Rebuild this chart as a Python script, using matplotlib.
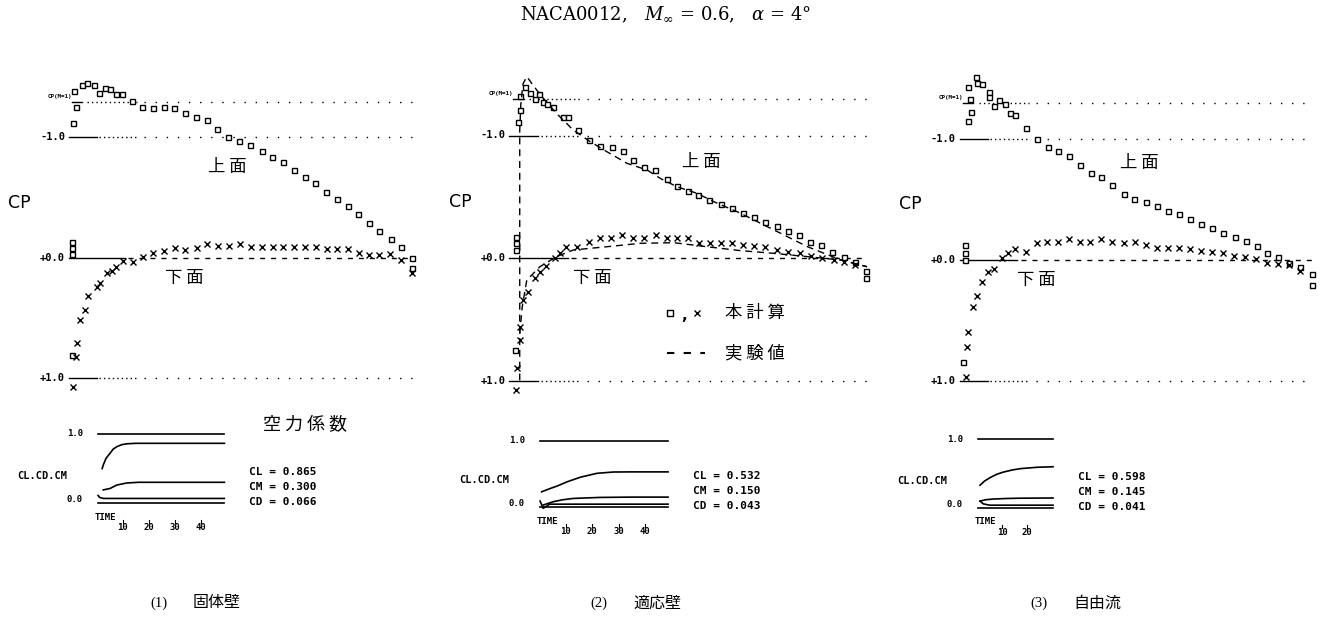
import matplotlib
matplotlib.use("Agg")
import matplotlib.pyplot as plt

plt.rcParams['font.family'] = ['DejaVu Sans', 'Noto Sans CJK JP']
plt.rcParams['mathtext.fontset'] = 'dejavuserif'

W, H = 1326, 617
MONO = 'DejaVu Sans Mono'
JP = ['Noto Sans CJK JP', 'DejaVu Sans']

CP_STAR = -1.294          # critical Cp for M = 0.6

# ---- (1) solid wall -------------------------------------------------------
solid_up_x = [0.0, 0.0, 0.0, 0.0, 0.002, 0.012, 0.006, 0.028, 0.045, 0.064, 0.08,
              0.096, 0.111, 0.13, 0.145, 0.176, 0.206, 0.237, 0.268, 0.298, 0.331,
              0.363, 0.395, 0.425, 0.456, 0.488, 0.521, 0.555, 0.585, 0.618, 0.650,
              0.681, 0.711, 0.743, 0.775, 0.806, 0.837, 0.867, 0.898, 0.932, 0.963,
              0.995, 0.995]
solid_up_cp = [0.805, -0.033, -0.08, -0.135, -1.12, -1.256, -1.39, -1.436, -1.45,
               -1.436, -1.367, -1.408, -1.40, -1.358, -1.358, -1.305, -1.256, -1.242,
               -1.256, -1.248, -1.206, -1.168, -1.145, -1.071, -1.007, -0.971, -0.938,
               -0.890, -0.836, -0.794, -0.730, -0.670, -0.620, -0.550, -0.487, -0.434,
               -0.365, -0.288, -0.224, -0.155, -0.094, 0.003, 0.085]
solid_lo_x = [0.004, 0.012, 0.014, 0.023, 0.038, 0.048, 0.072, 0.082, 0.101, 0.116,
              0.130, 0.148, 0.177, 0.208, 0.237, 0.269, 0.300, 0.331, 0.365, 0.395,
              0.427, 0.459, 0.490, 0.524, 0.555, 0.587, 0.616, 0.650, 0.681, 0.713,
              0.745, 0.775, 0.806, 0.838, 0.867, 0.898, 0.930, 0.963, 0.995]
solid_lo_cp = [1.068, 0.819, 0.708, 0.515, 0.432, 0.315, 0.238, 0.21, 0.122, 0.105,
               0.072, 0.022, 0.036, -0.011, -0.044, -0.058, -0.080, -0.066, -0.080,
               -0.114, -0.100, -0.100, -0.114, -0.089, -0.089, -0.094, -0.094, -0.089,
               -0.094, -0.094, -0.072, -0.072, -0.072, -0.039, -0.025, -0.025, -0.033,
               0.017, 0.127]

# ---- (2) adaptive wall ----------------------------------------------------
adapt_up_x = [0.005, 0.008, 0.008, 0.008, 0.015, 0.021, 0.019, 0.033, 0.049, 0.061,
              0.074, 0.085, 0.097, 0.114, 0.142, 0.156, 0.184, 0.215, 0.246, 0.279,
              0.310, 0.340, 0.371, 0.401, 0.434, 0.464, 0.493, 0.524, 0.555, 0.588,
              0.619, 0.650, 0.680, 0.713, 0.745, 0.776, 0.808, 0.839, 0.871, 0.902,
              0.935, 0.966, 0.997, 0.997]
adapt_up_cp = [0.75, -0.065, -0.12, -0.17, -1.11, -1.21, -1.32, -1.40, -1.345, -1.30,
               -1.34, -1.27, -1.26, -1.235, -1.15, -1.15, -1.045, -0.963, -0.914, -0.904,
               -0.876, -0.80, -0.74, -0.718, -0.642, -0.588, -0.549, -0.514, -0.473,
               -0.441, -0.406, -0.370, -0.332, -0.296, -0.261, -0.223, -0.188, -0.133,
               -0.106, -0.051, -0.011, 0.030, 0.104, 0.166]
adapt_lo_x = [0.008, 0.012, 0.019, 0.019, 0.029, 0.043, 0.061, 0.076, 0.093, 0.118,
              0.133, 0.151, 0.182, 0.215, 0.246, 0.277, 0.307, 0.340, 0.371, 0.403,
              0.434, 0.464, 0.495, 0.526, 0.556, 0.588, 0.618, 0.651, 0.682, 0.713,
              0.745, 0.778, 0.810, 0.841, 0.872, 0.907, 0.935, 0.967]
adapt_lo_cp = [1.078, 0.90, 0.669, 0.561, 0.343, 0.275, 0.166, 0.112, 0.065, 0.003,
               -0.038, -0.092, -0.087, -0.133, -0.160, -0.160, -0.188, -0.160, -0.160,
               -0.188, -0.160, -0.160, -0.160, -0.125, -0.125, -0.120, -0.120, -0.106,
               -0.098, -0.087, -0.065, -0.051, -0.043, -0.016, 0.003, 0.016, 0.030,
               0.057]
# wind-tunnel measurement
exp_up_x = [0.019, 0.019, 0.022, 0.028, 0.039, 0.075, 0.123, 0.17, 0.218, 0.265,
            0.322, 0.379, 0.416, 0.463, 0.52, 0.567, 0.643, 0.737, 0.832, 0.926, 1.0]
exp_up_cp = [1.0, -1.04, -1.25, -1.42, -1.48, -1.34, -1.18, -1.045, -0.95, -0.868,
             -0.773, -0.718, -0.65, -0.582, -0.528, -0.46, -0.365, -0.229, -0.092,
             0.016, 0.071]
exp_lo_x = [0.019, 0.026, 0.039, 0.076, 0.123, 0.17, 0.218, 0.265, 0.36, 0.454, 0.548,
            0.643, 0.737, 0.832, 0.926, 1.0]
exp_lo_cp = [0.62, 0.40, 0.18, 0.071, -0.011, -0.065, -0.079, -0.092, -0.12, -0.125,
             -0.092, -0.06, -0.038, -0.011, 0.016, 0.071]

# ---- (3) free stream ------------------------------------------------------
free_up_x = [0.0, 0.006, 0.006, 0.006, 0.015, 0.022, 0.02, 0.015, 0.036, 0.039, 0.055,
             0.074, 0.074, 0.089, 0.104, 0.12, 0.135, 0.149, 0.181, 0.211, 0.243,
             0.273, 0.305, 0.334, 0.366, 0.396, 0.428, 0.460, 0.491, 0.524, 0.556,
             0.586, 0.620, 0.651, 0.682, 0.714, 0.745, 0.779, 0.810, 0.841, 0.872,
             0.904, 0.934, 0.966, 0.999, 0.999]
free_up_cp = [0.84, -0.124, -0.06, 0.0, -1.149, -1.226, -1.328, -1.427, -1.51, -1.46,
              -1.455, -1.391, -1.345, -1.273, -1.322, -1.287, -1.212, -1.198, -1.088,
              -0.998, -0.931, -0.903, -0.860, -0.783, -0.722, -0.683, -0.620, -0.545,
              -0.501, -0.482, -0.446, -0.407, -0.380, -0.336, -0.294, -0.261, -0.226,
              -0.187, -0.160, -0.116, -0.06, -0.027, 0.022, 0.055, 0.116, 0.207]
free_lo_x = [0.009, 0.012, 0.015, 0.03, 0.041, 0.054, 0.073, 0.089, 0.111, 0.130,
             0.149, 0.180, 0.211, 0.242, 0.273, 0.304, 0.335, 0.364, 0.395, 0.428,
             0.460, 0.493, 0.524, 0.556, 0.587, 0.620, 0.651, 0.682, 0.714, 0.745,
             0.777, 0.808, 0.840, 0.870, 0.902, 0.934, 0.965]
free_lo_cp = [0.964, 0.722, 0.593, 0.386, 0.298, 0.179, 0.097, 0.077, -0.014, -0.055,
              -0.088, -0.069, -0.138, -0.152, -0.152, -0.174, -0.152, -0.152, -0.174,
              -0.152, -0.143, -0.152, -0.124, -0.097, -0.097, -0.097, -0.088, -0.077,
              -0.069, -0.055, -0.033, -0.022, -0.006, 0.022, 0.033, 0.041, 0.088]

# ---- force coefficient histories -----------------------------------------
coef_names = ['CL', 'CM', 'CD']
coef_final = [[0.865, 0.300, 0.066], [0.532, 0.150, 0.043], [0.598, 0.145, 0.041]]
time_ticks = [[10, 20, 30, 40], [10, 20, 30, 40], [10, 20]]

hist1_cl_t = [2.0, 2.4, 3.5, 5.0, 6.2, 7.6, 9.5, 11.4, 15, 49]
hist1_cl = [0.50, 0.55, 0.65, 0.72, 0.78, 0.816, 0.845, 0.858, 0.865, 0.865]
hist1_cm_t = [2.4, 5.0, 7.6, 11.4, 16, 49]
hist1_cm = [0.19, 0.21, 0.26, 0.29, 0.30, 0.30]
hist1_cd_t = [0.4, 1.0, 2.5, 49]
hist1_cd = [0.11, 0.08, 0.066, 0.066]

hist2_cl_t = [1.0, 4.2, 7.0, 10.5, 15.5, 21.8, 28, 35, 48.7]
hist2_cl = [0.23, 0.28, 0.32, 0.38, 0.45, 0.51, 0.53, 0.532, 0.532]
hist2_cm_t = [1.6, 5.4, 9.0, 13, 23, 35, 48.7]
hist2_cm = [0.03, 0.08, 0.11, 0.13, 0.145, 0.15, 0.15]
hist2_cd_t = [0.4, 1.6, 4.0, 48.7]
hist2_cd = [0.09, -0.02, 0.043, 0.043]

hist3_cl_t = [1.2, 3.0, 5.2, 8.0, 10.5, 14, 17.2, 24, 30.4]
hist3_cl = [0.33, 0.39, 0.44, 0.49, 0.52, 0.55, 0.57, 0.59, 0.598]
hist3_cm_t = [1.2, 3.5, 6.5, 12, 17, 30.4]
hist3_cm = [0.10, 0.12, 0.13, 0.138, 0.142, 0.145]
hist3_cd_t = [1.2, 2.5, 5.0, 30.4]
hist3_cd = [0.10, 0.06, 0.041, 0.041]

# pixel geometry of the three Cp panels and of the coefficient histories
cp_geom = [dict(le=72, te=414, zero=258, unit=120.5),
           dict(le=513, te=867, zero=258, unit=122.5),
           dict(le=963, te=1312, zero=260, unit=121)]
hist_geom = [dict(t0=97, ppt=2.6, zero=503, unit=69, tmax=49),
             dict(t0=539, ppt=2.65, zero=507, unit=66, tmax=48.7),
             dict(t0=977, ppt=2.5, zero=508, unit=69, tmax=30.4)]

fig = plt.figure(figsize=(W / 100, H / 100), dpi=100)
fig.patch.set_facecolor('white')

sq = dict(ls='none', marker='s', ms=3.6, mfc='white', mec='black', mew=1.0, clip_on=False)
cx = dict(ls='none', marker='x', ms=4.0, color='black', mew=1.0, clip_on=False)


def cp_panel(g, up_x, up_cp, lo_x, lo_cp):
    top, bot = g['zero'] - 1.75 * g['unit'], g['zero'] + 1.3 * g['unit']
    ax = fig.add_axes([g['le'] / W, 1 - bot / H, (g['te'] - g['le']) / W, (bot - top) / H])
    ax.set_xlim(0, 1)
    ax.set_ylim(1.3, -1.75)
    ax.axis('off')
    span = g['te'] - g['le']
    kw = dict(color='black', lw=1.0, clip_on=False)
    for lvl in (-1.0, 1.0):
        ax.plot([-0.01, 0.072], [lvl, lvl], **kw)
        ax.plot([0.078, 0.19], [lvl, lvl], ls=(0, (1, 2.2)), **kw)
        ax.plot([0.21, 1.0], [lvl, lvl], ls=(0, (1, 7)), **kw)
    ax.plot([-0.01, 0.155], [0, 0], **kw)
    ax.plot([0.165, 1.0], [0, 0], ls=(0, (3.6, 4.3)), **kw)
    ax.plot([0.0, 0.03], [CP_STAR, CP_STAR], **kw)
    ax.plot([0.045, 0.19], [CP_STAR, CP_STAR], ls=(0, (1, 2.2)), **kw)
    ax.plot([0.21, 1.0], [CP_STAR, CP_STAR], ls=(0, (1, 7)), **kw)
    tk = dict(ha='right', va='center', family=MONO, fontsize=7.5, fontweight='bold')
    ax.text(-7 / span, -1.0, '-1.0', **tk)
    ax.text(-7 / span, 0.0, '+0.0', **tk)
    ax.text(-7 / span, 1.0, '+1.0', **tk)
    ax.text(0.0, CP_STAR - 6 / g['unit'], 'CP(M=1)', ha='right', va='center',
            family=MONO, fontsize=4.2, fontweight='bold')
    ax.text(-64 / span, -0.46, 'CP', ha='left', va='center', fontsize=12.5)
    ax.plot(up_x, up_cp, **sq)
    ax.plot(lo_x, lo_cp, **cx)
    return ax


def hist_panel(g, series, finals, ticks):
    left, right = g['t0'], g['t0'] + g['ppt'] * g['tmax']
    top, bot = g['zero'] - 1.1 * g['unit'], g['zero'] + 0.45 * g['unit']
    ax = fig.add_axes([left / W, 1 - bot / H, (right - left) / W, (bot - top) / H])
    ax.set_xlim(0, g['tmax'])
    ax.set_ylim(-0.45, 1.1)
    ax.axis('off')
    px_t = 1 / g['ppt']
    px_v = 1 / g['unit']
    kw = dict(color='black', lw=1.2, clip_on=False)
    ax.plot([0.5, g['tmax']], [1.0, 1.0], **kw)
    ax.plot([0.5, g['tmax']], [0.0, 0.0], **kw)
    for t, v in series:
        ax.plot(t, v, **kw)
    small = dict(family=MONO, fontsize=6.5, fontweight='bold')
    ax.text(-14 * px_t, 1.0, '1.0', ha='right', va='center', **small)
    ax.text(-14 * px_t, 3 * px_v, '0.0', ha='right', va='center', **small)
    ax.text(-80 * px_t, 27 * px_v, 'CL.CD.CM', ha='left', va='center',
            family=MONO, fontsize=7.5, fontweight='bold')
    ax.text(8 * px_t, -14 * px_v, 'TIME', ha='center', va='center', **small)
    for t in ticks:
        ax.plot([t, t], [-17 * px_v, -20 * px_v], color='black', lw=0.8, clip_on=False)
        ax.text(t, -25 * px_v, f'{t}', ha='center', va='center', **small)
    for k, (name, val) in enumerate(zip(coef_names, finals)):
        ax.text(g['tmax'] + 25 * px_t, (31 - 15 * k) * px_v, f'{name} = {val:.3f}',
                ha='left', va='center', family=MONO, fontsize=8, fontweight='bold')
    return ax


cp_sets = [(solid_up_x, solid_up_cp, solid_lo_x, solid_lo_cp),
           (adapt_up_x, adapt_up_cp, adapt_lo_x, adapt_lo_cp),
           (free_up_x, free_up_cp, free_lo_x, free_lo_cp)]
axes = [cp_panel(g, *d) for g, d in zip(cp_geom, cp_sets)]

# measured distribution on the adaptive-wall case
axes[1].plot(exp_up_x, exp_up_cp, color='black', lw=1.0, ls=(0, (5, 3.5)), clip_on=False)
axes[1].plot(exp_lo_x, exp_lo_cp, color='black', lw=1.0, ls=(0, (5, 3.5)), clip_on=False)

hist_sets = [[(hist1_cl_t, hist1_cl), (hist1_cm_t, hist1_cm), (hist1_cd_t, hist1_cd)],
             [(hist2_cl_t, hist2_cl), (hist2_cm_t, hist2_cm), (hist2_cd_t, hist2_cd)],
             [(hist3_cl_t, hist3_cl), (hist3_cm_t, hist3_cm), (hist3_cd_t, hist3_cd)]]
for g, s, f, tk in zip(hist_geom, hist_sets, coef_final, time_ticks):
    hist_panel(g, s, f, tk)


def ftext(px, py, s, **kw):
    fig.text(px / W, 1 - py / H, s, **kw)


# surface labels
jp = dict(family=JP, fontsize=12.5, va='center', ha='left')
for px, py in [(208, 167), (682, 162), (1120, 163)]:
    ftext(px, py, '上 面', **jp)
for px, py in [(165, 278), (573, 278), (1017, 280)]:
    ftext(px, py, '下 面', **jp)

# legend of the adaptive-wall panel
leg = fig.add_axes([0, 0, 1, 1], facecolor='none')
leg.set_xlim(0, W)
leg.set_ylim(H, 0)
leg.axis('off')
leg.plot([670], [313], **dict(sq, ms=4.2))
leg.plot([697], [313], **dict(cx, ms=4.8))
ftext(684, 315, ',', fontsize=11, ha='center', va='center', fontweight='bold')
leg.plot([667, 705], [353, 353], color='black', lw=1.5, ls=(0, (3.5, 4.5)))
ftext(725, 313, '本 計 算', **jp)
ftext(725, 353, '実 験 値', **jp)
ftext(263, 425, '空 力 係 数', **dict(jp, fontsize=13))

# title and captions
ftext(666, 15, r'NACA0012,   $M_{\infty}$ = 0.6,   $\alpha$ = 4°', family='DejaVu Serif',
      fontsize=13, ha='center', va='center')
for px, num, name in [(150, '(1)', '固体壁'), (590, '(2)', '適応壁'), (1030, '(3)', '自由流')]:
    ftext(px, 603, num, family='Liberation Serif', fontsize=10.5, ha='left', va='center')
    ftext(px + 43, 603, name, family=JP, fontsize=11.5, ha='left', va='center')

fig.savefig('out.png', dpi=100)
